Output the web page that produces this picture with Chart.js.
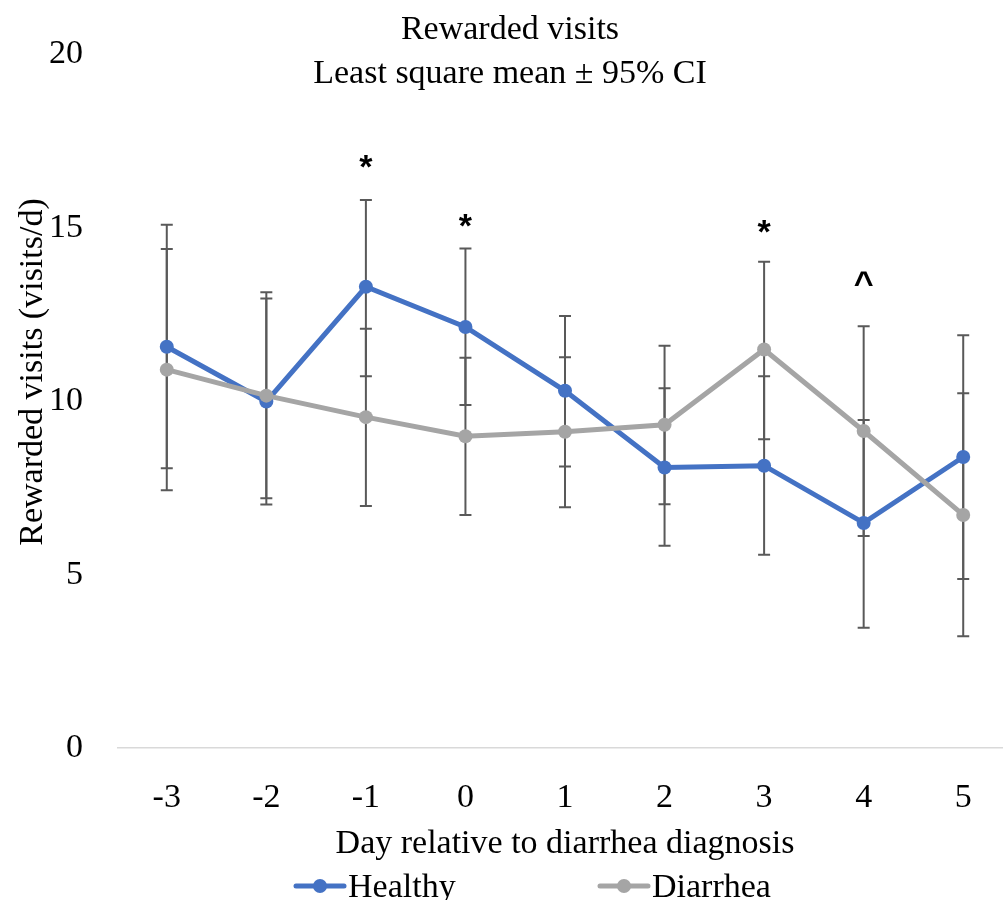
<!DOCTYPE html>
<html>
<head>
<meta charset="utf-8">
<title>Rewarded visits</title>
<script src="https://cdn.jsdelivr.net/npm/chart.js@4.4.1/dist/chart.umd.min.js"></script>
<style>
  html, body { margin: 0; padding: 0; background: #fff; overflow: hidden; }
  #wrap { width: 1003px; height: 900px; overflow: hidden; }
  canvas { display: block; }
</style>
</head>
<body>
<div id="wrap"><canvas id="chart" width="1020" height="900"></canvas></div>
<script>
// day relative to diagnosis
const days = ['-3', '-2', '-1', '0', '1', '2', '3', '4', '5'];

// least square means with 95% CI
const healthy   = [11.57, 9.99, 13.30, 12.14, 10.30, 8.09, 8.14, 6.49, 8.39];
const healthyHi = [15.09, 12.96, 15.80, 14.40, 12.46, 10.37, 10.72, 9.46, 11.90];
const healthyLo = [8.07, 7.02, 10.72, 9.89, 8.12, 5.83, 5.57, 3.47, 4.87];

const diarrhea   = [10.91, 10.16, 9.54, 8.99, 9.12, 9.32, 11.49, 9.14, 6.72];
const diarrheaHi = [14.39, 13.14, 12.09, 11.25, 11.27, 11.60, 14.02, 12.16, 10.23];
const diarrheaLo = [7.43, 7.20, 6.98, 6.72, 6.94, 7.03, 8.90, 6.11, 3.22];

// significance marks above the bars
const sigMarks = ['', '', '*', '*', '', '', '*', '^', ''];
const sigY     = [null, null, 16.91, 15.20, null, null, 15.03, 13.54, null];

const yTicks = [0, 5, 10, 15, 20];

const serif = "'Liberation Serif', 'Times New Roman', serif";
const font = { family: serif, size: 34 };

const extras = {
  id: 'extras',
  beforeDatasetsDraw(chart) {
    const { ctx, scales: { x, y } } = chart;
    ctx.save();
    ctx.strokeStyle = '#595959';
    ctx.lineWidth = 2;
    [[healthyLo, healthyHi], [diarrheaLo, diarrheaHi]].forEach(([lo, hi]) => {
      days.forEach((d, i) => {
        const px = x.getPixelForValue(i);
        const yt = y.getPixelForValue(hi[i]);
        const yb = y.getPixelForValue(lo[i]);
        ctx.beginPath();
        ctx.moveTo(px, yt); ctx.lineTo(px, yb);
        ctx.moveTo(px - 6, yt); ctx.lineTo(px + 6, yt);
        ctx.moveTo(px - 6, yb); ctx.lineTo(px + 6, yb);
        ctx.stroke();
      });
    });
    ctx.restore();
  },
  afterDraw(chart) {
    const { ctx, scales: { x, y } } = chart;
    ctx.save();
    ctx.fillStyle = '#000';
    ctx.textAlign = 'center';

    // title, two lines
    ctx.font = '34px ' + serif;
    ctx.textBaseline = 'alphabetic';
    ctx.fillText('Rewarded visits', 510, 39);
    ctx.fillText('Least square mean \u00b1 95% CI', 510, 83);

    // y axis title, Excel puts it a bit above the plot centre
    ctx.save();
    ctx.translate(42, 372);
    ctx.rotate(-Math.PI / 2);
    ctx.fillText('Rewarded visits (visits/d)', 0, 0);
    ctx.restore();

    // significance marks, centred on their value
    ctx.font = 'bold 34px "Liberation Sans", Arial, sans-serif';
    sigMarks.forEach((m, i) => {
      if (!m) return;
      const mt = ctx.measureText(m);
      const yc = y.getPixelForValue(sigY[i]);
      ctx.fillText(m, x.getPixelForValue(i), yc + (mt.actualBoundingBoxAscent - mt.actualBoundingBoxDescent) / 2);
    });

    // legend (line + marker), cut off by the bottom edge like the original
    const legendX = [296, 600];
    const ly = 886;
    ctx.textAlign = 'left';
    ctx.font = '34px ' + serif;
    chart.data.datasets.forEach((ds, i) => {
      const lx = legendX[i];
      ctx.strokeStyle = ds.borderColor;
      ctx.lineWidth = 5;
      ctx.lineCap = 'round';
      ctx.beginPath();
      ctx.moveTo(lx, ly); ctx.lineTo(lx + 48, ly);
      ctx.stroke();
      ctx.fillStyle = ds.borderColor;
      ctx.beginPath();
      ctx.arc(lx + 24, ly, 7, 0, Math.PI * 2);
      ctx.fill();
      ctx.fillStyle = '#000';
      ctx.fillText(ds.label, lx + 52, 897);
    });
    ctx.restore();
  }
};

new Chart(document.getElementById('chart'), {
  type: 'line',
  data: {
    labels: days,
    datasets: [
      {
        label: 'Healthy',
        data: healthy,
        borderColor: '#4472c4',
        backgroundColor: '#4472c4',
        borderWidth: 5,
        pointRadius: 7,
        pointBorderWidth: 0,
        tension: 0,
        order: 1
      },
      {
        label: 'Diarrhea',
        data: diarrhea,
        borderColor: '#a5a5a5',
        backgroundColor: '#a5a5a5',
        borderWidth: 5,
        pointRadius: 7,
        pointBorderWidth: 0,
        tension: 0,
        order: 0
      }
    ]
  },
  options: {
    responsive: false,
    animation: false,
    layout: { padding: { top: 48, right: 5, bottom: 0, left: 0 } },
    plugins: {
      legend: { display: false },
      tooltip: { enabled: false }
    },
    scales: {
      x: {
        offset: true,
        grid: { display: false, drawTicks: false },
        border: { display: false },
        ticks: { color: '#000', font: font, padding: 30, maxRotation: 0 },
        title: {
          display: true,
          text: 'Day relative to diarrhea diagnosis',
          color: '#000',
          font: font,
          padding: { top: 0, bottom: 36 }
        },
        afterFit: s => { s.height = 152; }
      },
      y: {
        min: 0,
        max: 20,
        afterBuildTicks: s => { s.ticks = yTicks.map(v => ({ value: v })); },
        ticks: { color: '#000', font: font, padding: 34 },
        grid: {
          drawTicks: false,
          lineWidth: 1.5,
          color: c => (c.tick && c.tick.value === 0) ? '#d9d9d9' : 'rgba(0,0,0,0)'
        },
        border: { display: false },
        afterFit: s => { s.width = 117; }
      }
    }
  },
  plugins: [extras]
});
</script>
</body>
</html>
